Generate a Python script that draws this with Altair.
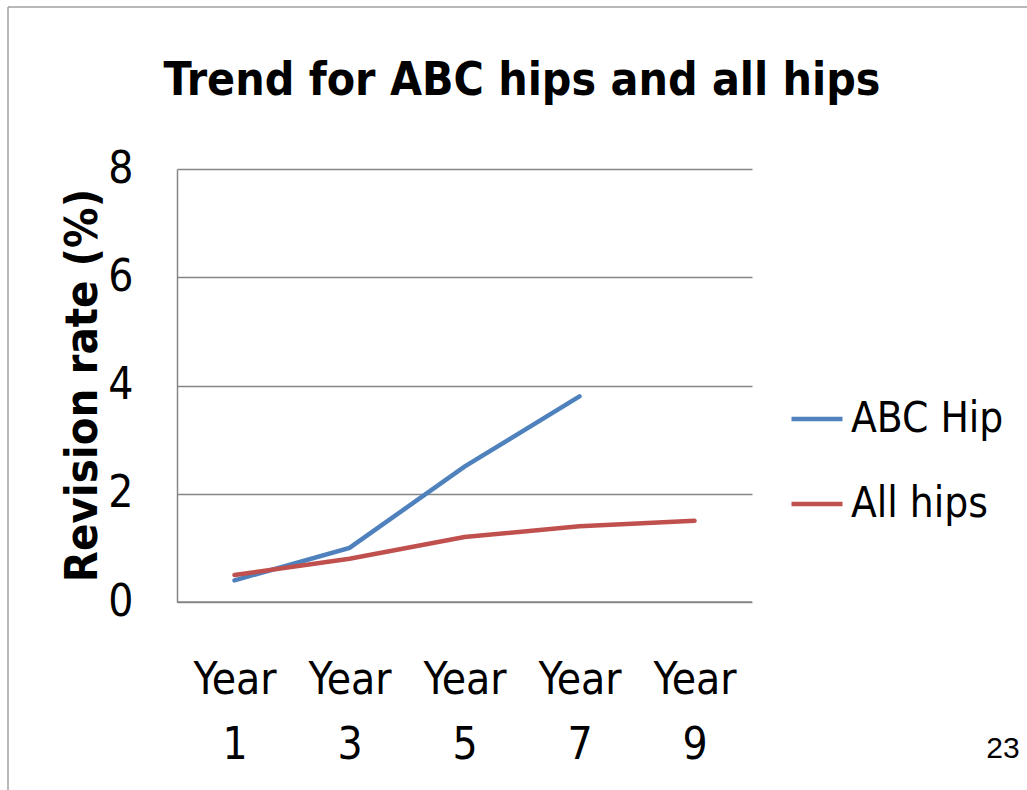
import altair as alt
import pandas as pd

years = ["Year 1", "Year 3", "Year 5", "Year 7", "Year 9"]
abc_hip = [0.4, 1.0, 2.5, 3.8, None]
all_hips = [0.5, 0.8, 1.2, 1.4, 1.5]
series_names = ["ABC Hip", "All hips"]
series_colors = ["#4F81BD", "#C0504D"]
title_text = "Trend for ABC hips and all hips"

rows = []
for y, a, b in zip(years, abc_hip, all_hips):
    if a is not None:
        rows.append({"year": y, "series": series_names[0], "rate": a})
    rows.append({"year": y, "series": series_names[1], "rate": b})
df = pd.DataFrame(rows)

FONT = "Liberation Sans Narrow, DejaVu Sans Condensed, Roboto, sans-serif"

lines = alt.Chart(df).mark_line(strokeWidth=4.5, strokeCap="round").encode(
    x=alt.X("year:O", sort=years, title=None,
            scale=alt.Scale(type="point", padding=0.5),
            axis=alt.Axis(labelExpr="split(datum.label, ' ')", labelAngle=0,
                          labelFontSize=44, labelFont=FONT, labelColor="#000000",
                          labelLineHeight=65, labelPadding=56, ticks=False,
                          domain=False, grid=False)),
    y=alt.Y("rate:Q", title="Revision rate (%)",
            scale=alt.Scale(domain=[0, 8]),
            axis=alt.Axis(values=[0, 2, 4, 6, 8], labelFontSize=44, labelFont=FONT,
                          labelColor="#000000", labelPadding=44, ticks=False,
                          domainColor="#868686", domainWidth=1.5,
                          gridColor="#868686", gridWidth=1.5,
                          titleFont=FONT, titleFontSize=45, titleFontWeight="bold",
                          titleColor="#000000", titleX=-95, titleY=216,
                          titleAngle=270, titleBaseline="middle")),
    color=alt.Color("series:N", sort=series_names,
                    scale=alt.Scale(domain=series_names, range=series_colors),
                    legend=alt.Legend(title=None, orient="none", legendX=612, legendY=222,
                                      symbolType="stroke", symbolSize=2600,
                                      symbolStrokeWidth=4.5, labelFontSize=42,
                                      labelFont=FONT, labelColor="#000000",
                                      rowPadding=36, labelOffset=6, labelLimit=300)),
)

bottom = alt.Chart(pd.DataFrame({"v": [0]})).mark_rule(color="#868686", strokeWidth=1.5).encode(
    y=alt.Y("v:Q", scale=alt.Scale(domain=[0, 8])), x=alt.value(0), x2=alt.value(575))

frame_top = alt.Chart(pd.DataFrame({"v": [0]})).mark_rule(color="#a0a0a0", strokeWidth=1.5).encode(
    x=alt.value(-169), x2=alt.value(860), y=alt.value(-162))
frame_left = alt.Chart(pd.DataFrame({"v": [0]})).mark_rule(color="#a0a0a0", strokeWidth=1.5).encode(
    x=alt.value(-169), y=alt.value(-162), y2=alt.value(640))

title = alt.Chart(pd.DataFrame({"t": [title_text]})).mark_text(
    font=FONT, fontSize=46, fontWeight="bold", color="#000000", align="center",
    baseline="alphabetic"
).encode(text="t:N", x=alt.value(345), y=alt.value(-74))

page = alt.Chart(pd.DataFrame({"t": ["23"]})).mark_text(
    font="Liberation Sans", fontSize=30, color="#000000", align="center", baseline="alphabetic"
).encode(text="t:N", x=alt.value(826), y=alt.value(589))

chart = alt.layer(lines, bottom, frame_top, frame_left, title, page).properties(
    width=575, height=433,
    background="#ffffff",
    view=alt.ViewBackground(stroke="transparent", strokeWidth=0),
    autosize=alt.AutoSizeParams(type="none"),
    padding={"left": 177, "top": 169, "right": 275, "bottom": 188},
).configure_view(strokeWidth=0, stroke="transparent")

chart.save("out.html", embed_options={"renderer": "svg", "actions": False})
